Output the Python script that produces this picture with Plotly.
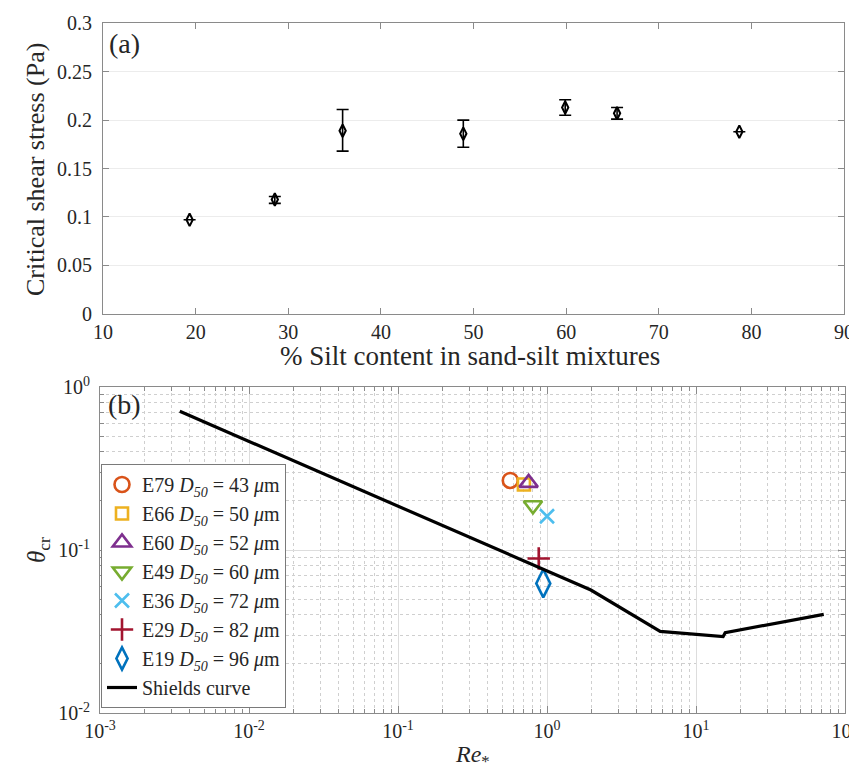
import plotly.graph_objects as go

W, H = 857, 773

# ---------- Panel (a) data ----------
silt_pct = [19.35, 28.55, 35.87, 48.9, 59.9, 65.5, 78.7]
tau_cr = [0.097, 0.118, 0.189, 0.186, 0.213, 0.207, 0.188]
tau_err_plus = [None, 0.003, 0.022, 0.014, 0.008, 0.006, None]
tau_err_minus = [None, 0.004, 0.021, 0.014, 0.008, 0.006, None]
xticks_a = [10, 20, 30, 40, 50, 60, 70, 80, 90]
yticks_a = [0, 0.05, 0.1, 0.15, 0.2, 0.25, 0.3]
yticklabels_a = ["0", "0.05", "0.1", "0.15", "0.2", "0.25", "0.3"]

# ---------- Panel (b) data ----------
sample_names = ["E79", "E66", "E60", "E49", "E36", "E29", "E19"]
d50_um = [43, 50, 52, 60, 72, 82, 96]
re_star = [0.567, 0.70, 0.753, 0.805, 1.0, 0.88, 0.944]
theta_cr = [0.267, 0.252, 0.258, 0.188, 0.161, 0.0887, 0.0624]
sample_colors = ["#D95319", "#EDB120", "#7E2F8E", "#77AC30", "#4DBEEE", "#A2142F", "#0072BD"]
sample_symbols = ["circle-open", "square-open", "triangle-up-open", "triangle-down-open",
                  "x-thin-open", "cross-thin-open", "diamond-tall-open"]
sample_sizes = [15, 12, 16, 16, 14, 16, 20]

shields_re = [0.00343, 1.97, 5.75, 15.2, 15.7, 72.0]
shields_theta = [0.71, 0.0568, 0.0317, 0.0294, 0.0311, 0.0403]

xticks_b = [1e-3, 1e-2, 1e-1, 1e0, 1e1, 1e2]
xticklabels_b = ["10<sup>-3</sup>", "10<sup>-2</sup>", "10<sup>-1</sup>", "10<sup>0</sup>",
                 "10<sup>1</sup>", "10<sup>2</sup>"]
yticks_b = [1e-2, 1e-1, 1e0]
yticklabels_b = ["10<sup>-2</sup>", "10<sup>-1</sup>", "10<sup>0</sup>"]

minor_x = [m * 10 ** e for e in range(-3, 2) for m in range(2, 10)]
minor_y = [m * 10 ** e for e in range(-2, 0) for m in range(2, 10)]

FONT = "Liberation Serif, Times New Roman, serif"
TXT = "#262626"
AXC = "#8a8a8a"


def px_x(p):
    return p / W


def px_y(p):
    return 1 - p / H


fig = go.Figure()

fig.add_trace(go.Scatter(
    x=silt_pct, y=tau_cr, mode="markers",
    marker=dict(symbol="diamond-tall-open", size=9, color="black", line=dict(width=2, color="black")),
    error_y=dict(type="data", symmetric=False, array=tau_err_plus, arrayminus=tau_err_minus,
                 color="black", thickness=1.6, width=6),
    xaxis="x", yaxis="y", showlegend=False,
))

for name, d, xv, yv, c, s, sz in zip(sample_names, d50_um, re_star, theta_cr,
                                      sample_colors, sample_symbols, sample_sizes):
    fig.add_trace(go.Scatter(
        x=[xv], y=[yv], mode="markers",
        name=f"{name} <i>D</i><sub><i>50</i></sub> = {d} <i>μ</i>m",
        marker=dict(symbol=s, size=sz, color=c, line=dict(width=2.6, color=c)),
        xaxis="x2", yaxis="y2", legendgroup=name,
    ))

fig.add_trace(go.Scatter(
    x=shields_re, y=shields_theta, mode="lines", name="Shields curve",
    line=dict(color="black", width=3.2), xaxis="x2", yaxis="y2", legendgroup="shields",
))

common_axis = dict(
    showline=True, linecolor=AXC, linewidth=1.2, mirror="ticks",
    ticks="inside", tickcolor=AXC, tickwidth=1.2,
    tickfont=dict(family=FONT, size=20, color=TXT),
    zeroline=False, automargin=False,
)

fig.update_layout(
    width=W, height=H,
    margin=dict(l=0, r=0, t=0, b=0),
    paper_bgcolor="white", plot_bgcolor="white",
    font=dict(family=FONT, color=TXT),
    xaxis=dict(domain=[px_x(95), px_x(836)], range=[10, 90], anchor="y",
               tickmode="array", tickvals=xticks_a, ticklen=6, showgrid=False,
               **common_axis),
    yaxis=dict(domain=[px_y(305.7), px_y(15.3)], range=[0, 0.3], anchor="x",
               tickmode="array", tickvals=yticks_a, ticktext=yticklabels_a, ticklen=6,
               showgrid=True, gridcolor="#ececec", gridwidth=1,
               ticklabelstandoff=6, **common_axis),
    xaxis2=dict(domain=[px_x(92), px_x(837)], type="log", range=[-3, 2], anchor="y2",
                tickmode="array", tickvals=xticks_b, ticktext=xticklabels_b, ticklen=7,
                showgrid=True, gridcolor="#dddddd", gridwidth=1,
                minor=dict(tickmode="array", tickvals=minor_x, ticks="inside", ticklen=4,
                           tickcolor=AXC, showgrid=True, gridcolor="#cfcfcf", griddash="dot",
                           gridwidth=1),
                **common_axis),
    yaxis2=dict(domain=[px_y(705), px_y(379)], type="log", range=[-2, 0], anchor="x2",
                tickmode="array", tickvals=yticks_b, ticktext=yticklabels_b, ticklen=7,
                showgrid=True, gridcolor="#dddddd", gridwidth=1,
                minor=dict(tickmode="array", tickvals=minor_y, ticks="inside", ticklen=4,
                           tickcolor=AXC, showgrid=True, gridcolor="#cfcfcf", griddash="dot",
                           gridwidth=1),
                ticklabelstandoff=5, **common_axis),
    legend=dict(x=px_x(93), y=px_y(456), xanchor="left", yanchor="top",
                bgcolor="white", bordercolor="#7a7a7a", borderwidth=1,
                font=dict(family=FONT, size=20, color=TXT), tracegroupgap=0,
                itemsizing="trace"),
)

annotations = [
    dict(text="(a)", x=px_x(116), y=px_y(36), font=dict(size=28)),
    dict(text="(b)", x=px_x(116), y=px_y(396), font=dict(size=28)),
    dict(text="Critical shear stress (Pa)", x=px_x(27), y=px_y(162), textangle=-90,
         font=dict(size=26)),
    dict(text="% Silt content in sand-silt mixtures", x=px_x(462), y=px_y(348),
         font=dict(size=27)),
    dict(text="<i>θ</i><sub>cr</sub>", x=px_x(30), y=px_y(542), textangle=-90,
         font=dict(size=25)),
    dict(text="<i>Re</i><sub>*</sub>", x=px_x(464), y=px_y(748), font=dict(size=24)),
]
for a in annotations:
    a.update(xref="paper", yref="paper", showarrow=False, xanchor="center", yanchor="middle")
    a["font"].update(family=FONT, color=TXT)
fig.update_layout(annotations=annotations)

fig.write_html("out.html")
